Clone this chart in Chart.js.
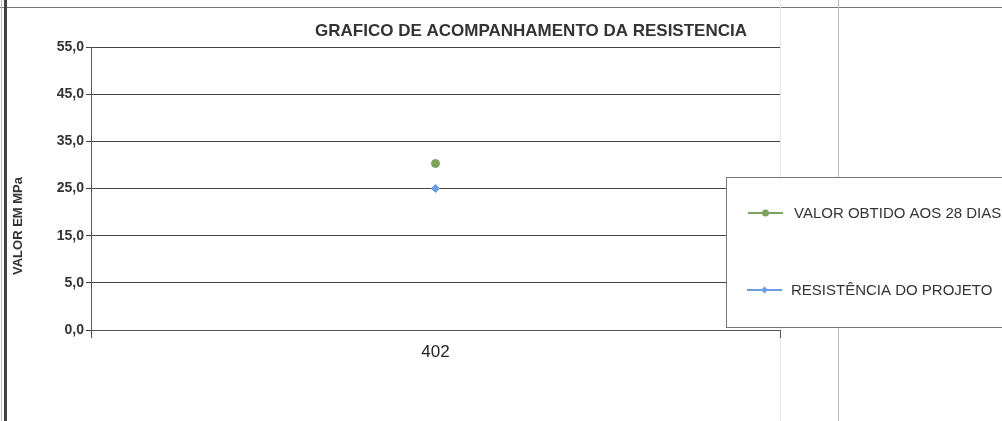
<!DOCTYPE html>
<html>
<head>
<meta charset="utf-8">
<script src="https://cdn.jsdelivr.net/npm/chart.js@4.4.1/dist/chart.umd.min.js"></script>
<style>
  html, body { margin: 0; padding: 0; background: #fff; }
  #wrap { width: 1002px; height: 421px; position: relative; }
</style>
</head>
<body>
<div id="wrap"><canvas id="chart" width="1002" height="421"></canvas></div>
<script>
/* ===== DATA ===== */
const categories = ["402"];
const valorObtido = [30.3];
const resistenciaProjeto = [25.0];
const yTicks = [-5, 5, 15, 25, 35, 45, 55];
const yTickLabels = ["0,0", "5,0", "15,0", "25,0", "35,0", "45,0", "55,0"];

const titleText = "GRAFICO DE ACOMPANHAMENTO DA RESISTENCIA";
const yTitleText = "VALOR EM MPa";
const seriesNames = ["VALOR OBTIDO AOS 28 DIAS", "RESISTÊNCIA DO PROJETO"];

const green = "#7aa35c";
const blue = "#6a9de4";
const FONT = "'Liberation Sans', Arial, sans-serif";

/* ===== FRAME, TITLE, LEGEND ===== */
const decor = {
  id: "decor",
  beforeDraw(chart) {
    const ctx = chart.ctx;
    ctx.save();
    ctx.fillStyle = "#fff";
    ctx.fillRect(0, 0, chart.width, chart.height);
    // scan frame lines
    ctx.strokeStyle = "#777";
    ctx.lineWidth = 1;
    ctx.beginPath();
    ctx.moveTo(0, 7.5); ctx.lineTo(chart.width, 7.5);
    ctx.stroke();
    ctx.strokeStyle = "#e6e6e6";
    ctx.beginPath();
    ctx.moveTo(780.5, 0); ctx.lineTo(780.5, chart.height);
    ctx.stroke();
    ctx.strokeStyle = "#bbb";
    ctx.beginPath();
    ctx.moveTo(838.5, 0); ctx.lineTo(838.5, chart.height);
    ctx.stroke();
    ctx.strokeStyle = "#bbb";
    ctx.beginPath();
    ctx.moveTo(1.5, 0); ctx.lineTo(1.5, chart.height);
    ctx.stroke();
    ctx.fillStyle = "#444";
    ctx.fillRect(4, 0, 3, chart.height);
    ctx.restore();
  },
  afterDraw(chart) {
    const ctx = chart.ctx;
    ctx.save();
    // title
    ctx.fillStyle = "#333";
    ctx.font = "bold 17px " + FONT;
    ctx.textAlign = "center";
    ctx.textBaseline = "middle";
    ctx.fillText(titleText, 531, 31);
    // y title
    ctx.save();
    ctx.translate(18, 226);
    ctx.rotate(-Math.PI / 2);
    ctx.font = "bold 13px " + FONT;
    ctx.fillText(yTitleText, 0, 0);
    ctx.restore();
    // legend box
    ctx.fillStyle = "#fff";
    ctx.fillRect(726, 177, 300, 150);
    ctx.strokeStyle = "#777";
    ctx.lineWidth = 1;
    ctx.strokeRect(726.5, 177.5, 300, 150);
    const items = [
      { color: green, name: seriesNames[0], y: 213, x0: 748, tx: 794, shape: "circle" },
      { color: blue, name: seriesNames[1], y: 290, x0: 747, tx: 791, shape: "diamond" }
    ];
    items.forEach(it => {
      ctx.strokeStyle = it.color;
      ctx.lineWidth = 2;
      ctx.beginPath();
      ctx.moveTo(it.x0, it.y); ctx.lineTo(it.x0 + 35, it.y);
      ctx.stroke();
      ctx.fillStyle = it.color;
      const cx = it.x0 + 17.5;
      ctx.beginPath();
      if (it.shape === "circle") {
        ctx.arc(cx, it.y, 3.5, 0, Math.PI * 2);
      } else {
        ctx.moveTo(cx, it.y - 3.5); ctx.lineTo(cx + 3.5, it.y);
        ctx.lineTo(cx, it.y + 3.5); ctx.lineTo(cx - 3.5, it.y);
        ctx.closePath();
      }
      ctx.fill();
      ctx.fillStyle = "#333";
      ctx.font = "15px " + FONT;
      ctx.textAlign = "left";
      ctx.textBaseline = "middle";
      ctx.fillText(it.name, it.tx, it.y + 1);
    });
    ctx.restore();
  }
};

/* ===== CHART ===== */
new Chart(document.getElementById("chart"), {
  type: "line",
  data: {
    labels: categories,
    datasets: [
      {
        label: seriesNames[0],
        data: valorObtido,
        borderColor: green,
        backgroundColor: green,
        pointStyle: "circle",
        pointRadius: 4,
        showLine: false
      },
      {
        label: seriesNames[1],
        data: resistenciaProjeto,
        borderColor: blue,
        backgroundColor: blue,
        pointStyle: "rectRot",
        pointRadius: 4,
        showLine: false
      }
    ]
  },
  options: {
    responsive: false,
    animation: false,
    layout: { padding: { top: 47, right: 222, bottom: 61, left: 0 } },
    plugins: {
      legend: { display: false },
      title: { display: false },
      tooltip: { enabled: false }
    },
    scales: {
      x: {
        offset: true,
        afterFit: s => { s.height = 30; },
        grid: {
          offset: true,
          drawOnChartArea: false,
          drawTicks: true,
          tickLength: 8,
          color: "#555"
        },
        border: { color: "#555" },
        ticks: {
          color: "#222",
          font: { family: FONT, size: 17 },
          padding: 4
        }
      },
      y: {
        min: -5,
        max: 55,
        afterFit: s => { s.width = 91; },
        afterBuildTicks: s => { s.ticks = yTicks.map(v => ({ value: v })); },
        grid: {
          color: "#444",
          tickLength: 5
        },
        border: { color: "#555" },
        ticks: {
          color: "#333",
          font: { family: FONT, size: 14, weight: "bold" },
          padding: 2,
          callback: (v) => yTickLabels[yTicks.indexOf(v)]
        }
      }
    }
  },
  plugins: [decor]
});
</script>
</body>
</html>
